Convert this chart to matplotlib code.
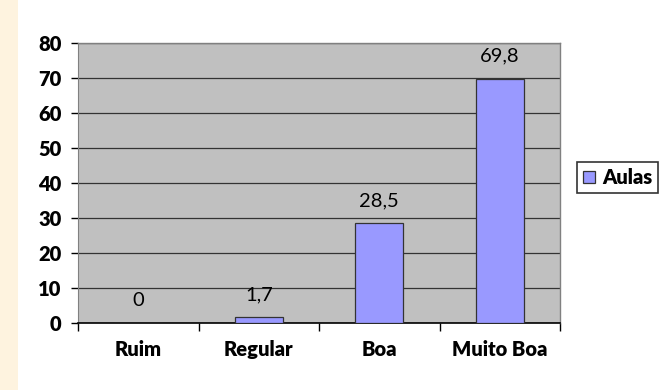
import matplotlib
matplotlib.use("Agg")
import matplotlib.pyplot as plt
from matplotlib.patches import Rectangle

categories = ["Ruim", "Regular", "Boa", "Muito Boa"]
values = [0, 1.7, 28.5, 69.8]
value_labels = ["0", "1,7", "28,5", "69,8"]
series_name = "Aulas"
y_ticks = [0, 10, 20, 30, 40, 50, 60, 70, 80]

W, H = 664, 390
fig = plt.figure(figsize=(W / 100, H / 100), dpi=100)
fig.patch.set_facecolor("white")

# cream strip along the left edge
fig.add_artist(Rectangle((0, 0), 18 / W, 1, transform=fig.transFigure,
                         facecolor="#FEF3DF", edgecolor="none", zorder=0))

ax = fig.add_axes([78 / W, 1 - 323 / H, (560 - 78) / W, (323 - 43) / H])
ax.set_facecolor("#C0C0C0")

x = list(range(len(categories)))
bars = ax.bar(x, values, width=0.4, color="#9999FF", edgecolor="#333333",
              linewidth=0.9, label=series_name, zorder=3)

for xi, v, lab in zip(x, values, value_labels):
    ax.text(xi, v + 4.0, lab, ha="center", va="bottom", fontsize=14.5,
            family="Lato", color="black", zorder=4)

bold = dict(fontsize=14.5, fontweight="heavy", family="Lato")

ax.set_xlim(-0.5, len(categories) - 0.5)
ax.set_ylim(0, 80)
ax.set_yticks(y_ticks)
ax.set_yticklabels([str(t) for t in y_ticks], **bold)
ax.yaxis.grid(True, color="#333333", linewidth=0.9, zorder=1)
ax.set_axisbelow(True)

# category ticks sit on the boundaries between groups
ax.set_xticks([i - 0.5 for i in range(len(categories) + 1)])
ax.set_xticklabels([])
ax.set_xticks(x, minor=True)
ax.set_xticklabels(categories, minor=True, **bold)
ax.tick_params(axis="x", which="major", length=6, width=1, color="black",
               direction="out")
ax.tick_params(axis="x", which="minor", length=0, pad=12)
ax.tick_params(axis="y", length=5, width=1, color="black", pad=7)

for side in ["top", "right"]:
    ax.spines[side].set_color("#808080")
    ax.spines[side].set_linewidth(1)
ax.spines["left"].set_color("#808080")
ax.spines["bottom"].set_color("black")
ax.spines["bottom"].set_linewidth(1.2)

leg = fig.legend(handles=[bars], labels=[series_name], loc="center left",
                 bbox_to_anchor=(577 / W, 1 - 177.5 / H), frameon=True,
                 fancybox=False, edgecolor="black", handlelength=0.6,
                 handleheight=0.6, handletextpad=0.35, borderpad=0.3,
                 borderaxespad=0,
                 prop={"family": "Lato", "weight": "heavy", "size": 14.5})
leg.get_frame().set_linewidth(1.2)

fig.savefig("out.png", dpi=100, facecolor="white")
